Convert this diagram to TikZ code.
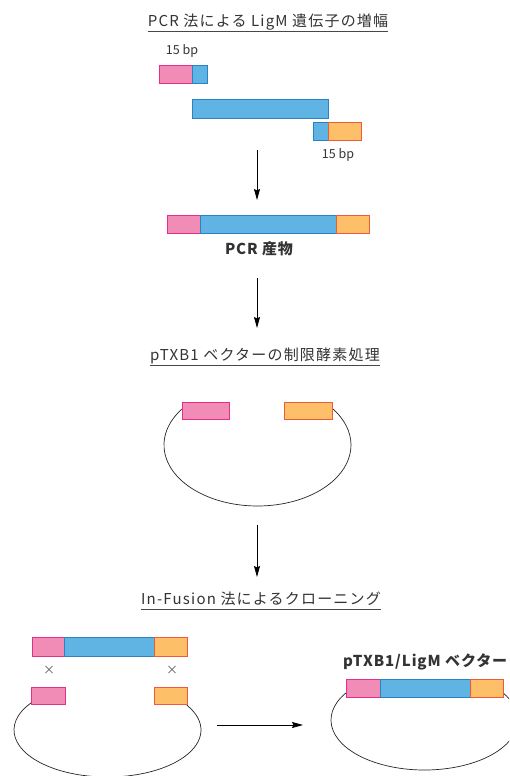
\documentclass[tikz,border=0pt]{standalone}
\usepackage{fontspec}
\setmainfont{Noto Sans CJK JP}
\usetikzlibrary{arrows.meta}
\definecolor{pinkfill}{HTML}{F08CB6}
\definecolor{pinkline}{HTML}{E62E8B}
\definecolor{bluefill}{HTML}{5FB4E4}
\definecolor{blueline}{HTML}{2C80C4}
\definecolor{orangefill}{HTML}{FDBF68}
\definecolor{orangeline}{HTML}{EE5A3A}
\definecolor{txt}{HTML}{333333}
\tikzset{
  seg/.style={draw, line width=0.9pt, inner sep=0pt, minimum height=18pt},
  pinkseg/.style={seg, fill=pinkfill, draw=pinkline},
  blueseg/.style={seg, fill=bluefill, draw=blueline},
  orangeseg/.style={seg, fill=orangefill, draw=orangeline},
  title/.style={inner sep=0pt, text=txt, font=\fontsize{15}{17}\selectfont\addfontfeature{LetterSpace=8}, text height=11pt, text depth=3.5pt},
  uline/.style={draw=txt!90, line width=0.7pt},
  small/.style={inner sep=0pt, text=txt, font=\fontsize{12.5}{14}\selectfont},
  boldlabel/.style={inner sep=0pt, text=txt, font=\fontsize{15}{17}\selectfont\bfseries\addfontfeature{LetterSpace=6}},
  cross/.style={inner sep=0pt, text=txt!80, font=\fontsize{12}{14}\selectfont},
  flow/.style={draw=black, line width=0.8pt, -{Stealth[length=11pt,width=6pt,inset=1.5pt]}},
  ring/.style={draw=black!85, line width=0.7pt}
}
\begin{document}
\begin{tikzpicture}[x=1pt,y=-1pt]
\useasboundingbox (0,0) rectangle (509,776);
\fill[white] (0,0) rectangle (509,776);
\clip (0,0) rectangle (509,776);

% ---- Step 1
\node[title] (t1) at (268,23) {PCR 法による LigM 遺伝子の増幅};
\draw[uline] ([yshift=-1pt]t1.south west) -- ([yshift=-1pt]t1.south east);
\node[small] (bp1) at (182,51) {15 bp};
\node[pinkseg, minimum width=33pt] (p1) at (175.5,74) {};
\node[blueseg, minimum width=15pt] (b1) at (199.5,74) {};
\node[blueseg, minimum width=136pt, minimum height=19pt] (b2) at (260,108.5) {};
\node[blueseg, minimum width=15pt] (b3) at (320.5,131) {};
\node[orangeseg, minimum width=33pt] (o1) at (344.5,131) {};
\node[small] (bp2) at (338,155) {15 bp};
\coordinate (a1s) at (257,150);
\coordinate (a1e) at (257,200);
\draw[flow] (a1s) -- (a1e);

% ---- PCR product
\node[pinkseg, minimum width=33pt] (pp) at (183.5,224) {};
\node[blueseg, minimum width=136pt] (pb) at (268,224) {};
\node[orangeseg, minimum width=33pt] (po) at (352.5,224) {};
\node[boldlabel] (pcr) at (259,248.5) {PCR 産物};
\coordinate (a2s) at (257,278);
\coordinate (a2e) at (257,328);
\draw[flow] (a2s) -- (a2e);

% ---- Step 2
\node[title] (t2) at (265,357) {pTXB1 ベクターの制限酵素処理};
\draw[uline] ([yshift=-1pt]t2.south west) -- ([yshift=-1pt]t2.south east);
\coordinate (c2) at (257.5,445);
\draw[ring] (c2) ++(143.8:93.5pt and 61pt) arc[start angle=143.8, end angle=397.2, x radius=93.5pt, y radius=61pt];
\node[pinkseg, minimum width=47pt, minimum height=17pt] (vp) at (205.5,410.5) {};
\node[orangeseg, minimum width=48pt, minimum height=17pt] (vo) at (308,410.5) {};
\coordinate (a3s) at (257,525);
\coordinate (a3e) at (257,577);
\draw[flow] (a3s) -- (a3e);

% ---- Step 3
\node[title] (t3) at (261,601) {In-Fusion 法によるクローニング};
\draw[uline] ([yshift=-1pt]t3.south west) -- ([yshift=-1pt]t3.south east);
\node[pinkseg, minimum width=32pt, minimum height=19pt] (ip) at (48,646.5) {};
\node[blueseg, minimum width=90pt, minimum height=19pt] (ib) at (109,646.5) {};
\node[orangeseg, minimum width=33pt, minimum height=19pt] (io) at (170.5,646.5) {};
\node[cross] (x1) at (49,670) {×};
\node[cross] (x2) at (172,670) {×};
\coordinate (c3) at (107.5,730);
\draw[ring] (c3) ++(144.9:93.5pt and 47pt) arc[start angle=144.9, end angle=391.8, x radius=93.5pt, y radius=47pt];
\node[pinkseg, minimum width=34pt, minimum height=17pt] (lp) at (48,695.5) {};
\node[orangeseg, minimum width=33pt, minimum height=17pt] (lo) at (170.5,695.5) {};
\coordinate (a4s) at (217,725);
\coordinate (a4e) at (303,725);
\draw[flow] (a4s) -- (a4e);

% ---- Result
\node[boldlabel, anchor=west] (res) at (343,662) {pTXB1/LigM ベクター};
\coordinate (c4) at (424.5,720);
\draw[ring] (c4) ++(147.1:93.5pt and 50pt) arc[start angle=147.1, end angle=392.9, x radius=93.5pt, y radius=50pt];
\node[pinkseg, minimum width=34pt] (rp) at (363,688) {};
\node[blueseg, minimum width=90pt] (rb) at (425,688) {};
\node[orangeseg, minimum width=33pt] (ro) at (486.5,688) {};
\end{tikzpicture}
\end{document}
